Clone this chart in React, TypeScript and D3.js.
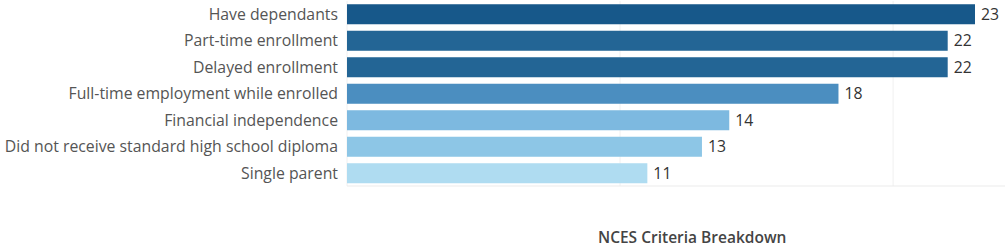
import React from "react";
import * as d3 from "d3";

const categories = [
  "Have dependants",
  "Part-time enrollment",
  "Delayed enrollment",
  "Full-time employment while enrolled",
  "Financial independence",
  "Did not receive standard high school diploma",
  "Single parent",
];
const values = [23, 22, 22, 18, 14, 13, 11];
const barColors = ["#17588a", "#236595", "#236595", "#4b8ec0", "#7db9e0", "#8dc6e6", "#afdcf1"];
const gridTicks = [0, 10, 20];
const title = "NCES Criteria Breakdown";

const W = 1005;
const H = 249;
const FONT = "'Open Sans', 'Noto Sans', sans-serif";

export default function App() {
  const x = d3.scaleLinear().domain([0, 23]).range([347, 975]);
  const y = d3.scaleBand<string>().domain(categories).range([1, 186.5]).paddingInner(0.245).paddingOuter(0.1225);
  return (
    <svg width={W} height={H} style={{ position: "absolute", left: 0, top: 0, background: "#fff" }}>
      {gridTicks.map((t) => (
        <line key={t} x1={x(t)} x2={x(t)} y1={1} y2={186} stroke="#f0f0f0" strokeWidth={1} />
      ))}
      <line x1={347} x2={W} y1={186} y2={186} stroke="#ebebeb" strokeWidth={1} />
      {categories.map((c, i) => {
        const yy = y(c)!;
        const bw = y.bandwidth();
        return (
          <g key={c}>
            <rect x={x(0)} y={yy} width={x(values[i]) - x(0)} height={bw} fill={barColors[i]} />
            <text x={338} y={yy + bw / 2} dy="0.35em" textAnchor="end" fontFamily={FONT} fontSize={15.8} fill="#555">
              {c}
            </text>
            <text x={x(values[i]) + 6} y={yy + bw / 2} dy="0.35em" textAnchor="start" fontFamily={FONT} fontSize={15.8} fill="#333">
              {values[i]}
            </text>
          </g>
        );
      })}
      <text x={598} y={243} textAnchor="start" fontFamily={FONT} fontSize={15.5} fontWeight={600} fill="#444">
        {title}
      </text>
    </svg>
  );
}
